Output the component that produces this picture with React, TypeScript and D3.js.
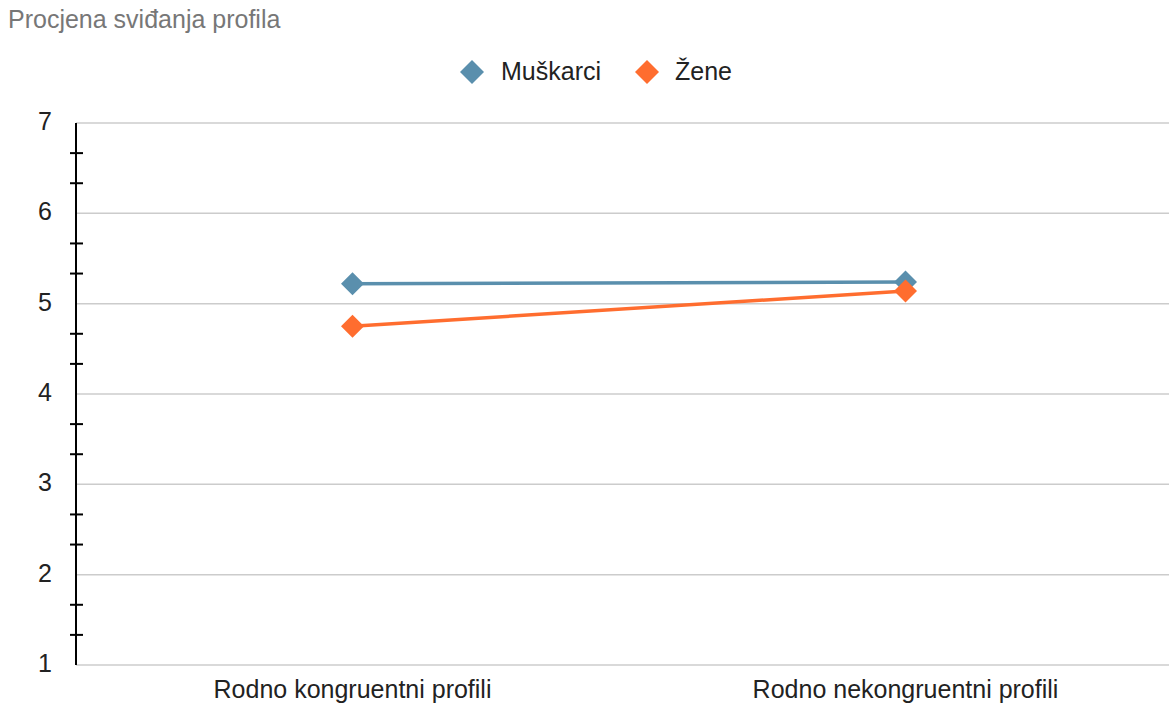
import React from "react";
import * as d3 from "d3";

const title = "Procjena sviđanja profila";
const categories = ["Rodno kongruentni profili", "Rodno nekongruentni profili"];
const seriesNames = ["Muškarci", "Žene"];
const muskarci = [5.22, 5.24];
const zene = [4.75, 5.14];
const colors = ["#5a8fad", "#ff6d2f"];
const yTicks = [1, 2, 3, 4, 5, 6, 7];

const W = 1169;
const H = 704;
const FONT = "'Liberation Sans', Arial, sans-serif";
const FS = 25;

export default function App() {
  const x = d3.scaleBand<string>().domain(categories).range([76, 1182]);
  const y = d3.scaleLinear().domain([1, 7]).range([665, 123]);
  const minor = d3.range(1, 7).flatMap((v) => [v + 1 / 3, v + 2 / 3]);
  const series = [muskarci, zene];
  const line = d3
    .line<number>()
    .x((_, i) => (x(categories[i]) as number) + x.bandwidth() / 2)
    .y((d) => y(d));
  const diamond = (cx: number, cy: number, r: number) =>
    `M${cx},${cy - r}L${cx + r},${cy}L${cx},${cy + r}L${cx - r},${cy}Z`;

  const legendItems = [
    { name: seriesNames[0], dx: 472, tx: 501 },
    { name: seriesNames[1], dx: 647, tx: 675 },
  ];

  return (
    <svg
      width={W}
      height={H}
      style={{ position: "absolute", left: 0, top: 0, display: "block" }}
      fontFamily={FONT}
    >
      <rect width={W} height={H} fill="#fff" />
      <text x={8} y={28} fontSize={FS} fill="#777">
        {title}
      </text>
      {legendItems.map((l, i) => (
        <g key={l.name}>
          <path d={diamond(l.dx, 72, 12)} fill={colors[i]} />
          <text x={l.tx} y={80} fontSize={FS} fill="#222">
            {l.name}
          </text>
        </g>
      ))}
      {yTicks.map((t) => (
        <g key={t}>
          <line x1={76} x2={W} y1={y(t)} y2={y(t)} stroke="#ccc" strokeWidth={1.5} />
          <text x={52} y={y(t) + 7} textAnchor="end" fontSize={FS} fill="#222">
            {t}
          </text>
        </g>
      ))}
      {minor.map((t, i) => (
        <line key={i} x1={70} x2={83} y1={y(t)} y2={y(t)} stroke="#000" strokeWidth={2} />
      ))}
      <line x1={76} x2={76} y1={y(7)} y2={y(1)} stroke="#000" strokeWidth={2} />
      {categories.map((c) => (
        <text
          key={c}
          x={(x(c) as number) + x.bandwidth() / 2}
          y={698}
          textAnchor="middle"
          fontSize={FS}
          fill="#222"
        >
          {c}
        </text>
      ))}
      {series.map((s, si) => (
        <g key={si}>
          <path d={line(s) || ""} fill="none" stroke={colors[si]} strokeWidth={3.5} />
          {s.map((v, i) => (
            <path
              key={i}
              d={diamond((x(categories[i]) as number) + x.bandwidth() / 2, y(v), 11.5)}
              fill={colors[si]}
            />
          ))}
        </g>
      ))}
    </svg>
  );
}
